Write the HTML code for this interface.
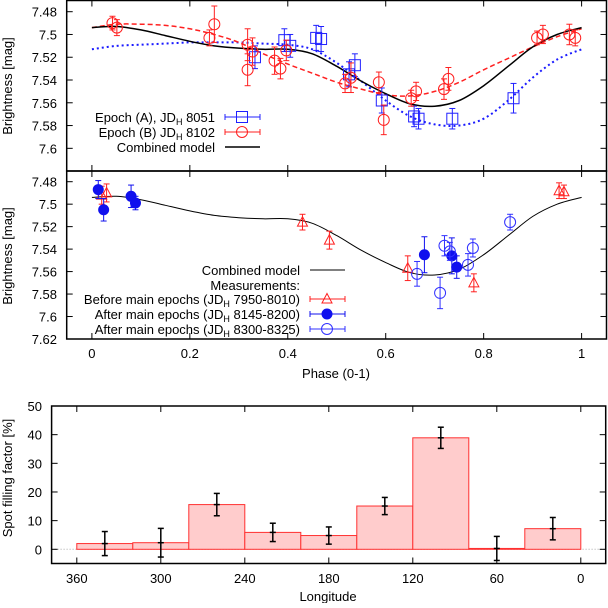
<!DOCTYPE html>
<html><head><meta charset="utf-8"><style>
body{margin:0;background:#fff}
svg text{font-family:"Liberation Sans",sans-serif;font-size:13px;fill:#000}
</style></head><body>
<svg id="c" width="608" height="603" xmlns="http://www.w3.org/2000/svg"></svg>
<script>
// ---- data ----
const phaseTicks=[0,0.2,0.4,0.6,0.8,1];
const phaseTickLabels=["0","0.2","0.4","0.6","0.8","1"];
const topYTicks=[7.48,7.5,7.52,7.54,7.56,7.58,7.6];
const topYLabels=["7.48","7.5","7.52","7.54","7.56","7.58","7.6"];
const midYTicks=[7.48,7.5,7.52,7.54,7.56,7.58,7.6,7.62];
const midYLabels=["7.48","7.5","7.52","7.54","7.56","7.58","7.6","7.62"];
const epochAPhase=[0.333,0.393,0.405,0.458,0.468,0.525,0.537,0.592,0.658,0.667,0.736,0.861];
const epochAMag=[7.520,7.505,7.510,7.503,7.504,7.535,7.527,7.558,7.572,7.574,7.574,7.556];
const epochAErr=[0.010,0.010,0.010,0.011,0.011,0.011,0.010,0.011,0.009,0.009,0.009,0.013];
const epochBPhase=[0.042,0.051,0.240,0.250,0.318,0.318,0.328,0.373,0.385,0.397,0.517,0.529,0.586,0.596,0.652,0.662,0.719,0.728,0.909,0.921,0.975,0.987];
const epochBMag=[7.490,7.494,7.503,7.491,7.509,7.531,7.515,7.523,7.530,7.514,7.543,7.538,7.542,7.575,7.556,7.550,7.548,7.539,7.503,7.500,7.500,7.503];
const epochBErr=[0.006,0.007,0.007,0.016,0.014,0.014,0.012,0.012,0.009,0.009,0.008,0.013,0.009,0.013,0.007,0.008,0.009,0.010,0.006,0.008,0.009,0.007];
const modelPhase=[0,0.05,0.1,0.15,0.2,0.25,0.3,0.35,0.4,0.45,0.5,0.55,0.6,0.65,0.7,0.75,0.8,0.85,0.9,0.95,1];
const combinedModel=[7.494,7.493,7.496,7.501,7.506,7.510,7.512,7.513,7.513,7.517,7.528,7.541,7.552,7.561,7.563,7.558,7.545,7.528,7.511,7.500,7.494];
const modelB=[7.494,7.491,7.491,7.492,7.495,7.500,7.507,7.517,7.526,7.534,7.542,7.548,7.553,7.554,7.550,7.542,7.531,7.521,7.511,7.502,7.495];
const modelA=[7.513,7.510,7.509,7.508,7.507,7.507,7.507,7.508,7.509,7.513,7.525,7.541,7.558,7.572,7.579,7.580,7.574,7.558,7.538,7.522,7.513];
const beforePhase=[0.020,0.030,0.430,0.485,0.645,0.780,0.954,0.964];
const beforeMag=[7.492,7.490,7.516,7.532,7.557,7.570,7.488,7.489];
const beforeErr=[0.008,0.008,0.007,0.008,0.011,0.008,0.007,0.006];
const after1Phase=[0.013,0.024,0.080,0.089,0.679,0.735,0.745];
const after1Mag=[7.487,7.505,7.493,7.499,7.545,7.546,7.556];
const after1Err=[0.008,0.010,0.010,0.006,0.016,0.016,0.010];
const after2Phase=[0.664,0.711,0.720,0.731,0.768,0.778,0.854];
const after2Mag=[7.562,7.579,7.537,7.542,7.554,7.539,7.516];
const after2Err=[0.011,0.014,0.009,0.008,0.010,0.008,0.007];
const lonEdges=[360,320,280,240,200,160,120,80,40,0];
const spotValues=[2.0,2.3,15.6,5.9,4.8,15.1,38.9,0.3,7.2];
const spotErr=[4.2,5.0,3.9,3.2,3.0,3.0,3.7,4.2,3.9];
const lonTicks=[360,300,240,180,120,60,0];
const spotYTicks=[0,10,20,30,40,50];

// ---- helpers ----
const S=document.getElementById('c');const NS='http://www.w3.org/2000/svg';
function el(t,a,p){const e=document.createElementNS(NS,t);for(const k in a)e.setAttribute(k,a[k]);(p||S).appendChild(e);return e;}
function txt(x,y,s,anc,p){const e=el('text',{x:x,y:y,'text-anchor':anc||'middle'},p);e.innerHTML=s;return e;}
const px=p=>91.9+p*489.7;
const yTop=v=>11.7+(v-7.48)/0.02*22.77;
const yMid=v=>181.7+(v-7.48)/0.02*22.47;
const lx=l=>580.8-l/360*504;
const sy=v=>549.3-v*2.866;

function frame(x1,y1,x2,y2,name){const r=el('rect',{x:x1,y:y1,width:x2-x1,height:y2-y1,fill:'none',stroke:'#000','stroke-width':1.5});
}
function line(x1,y1,x2,y2,c,w,d,p){return el('line',{x1:x1,y1:y1,x2:x2,y2:y2,stroke:c,'stroke-width':w||1,'stroke-dasharray':d||'none'},p);}
function curve(xs,ys,fx,fy,c,w,d,name){
 const P=xs.map((x,i)=>[fx(x),fy(ys[i])]);let s='M'+P[0][0].toFixed(1)+','+P[0][1].toFixed(1);
 for(let i=0;i<P.length-1;i++){const p0=P[Math.max(0,i-1)],p1=P[i],p2=P[i+1],p3=P[Math.min(P.length-1,i+2)];
  const c1=[p1[0]+(p2[0]-p0[0])/6,p1[1]+(p2[1]-p0[1])/6],c2=[p2[0]-(p3[0]-p1[0])/6,p2[1]-(p3[1]-p1[1])/6];
  s+=`C${c1[0].toFixed(1)},${c1[1].toFixed(1)} ${c2[0].toFixed(1)},${c2[1].toFixed(1)} ${p2[0].toFixed(1)},${p2[1].toFixed(1)}`;}
 const e=el('path',{d:s,fill:'none',stroke:c,'stroke-width':w,'stroke-dasharray':d||'none'});
 }
function err(x,y1,y2,c,p){line(x,y1,x,y2,c,1,null,p);line(x-3,y1,x+3,y1,c,1,null,p);line(x-3,y2,x+3,y2,c,1,null,p);}
function marker(kind,x,y,c,p){
 if(kind==='sq')el('rect',{x:x-5.5,y:y-5.5,width:11,height:11,fill:'none',stroke:c,'stroke-width':1},p);
 else if(kind==='oc')el('circle',{cx:x,cy:y,r:5.5,fill:'none',stroke:c,'stroke-width':1},p);
 else if(kind==='fc')el('circle',{cx:x,cy:y,r:5,fill:c,stroke:c},p);
 else if(kind==='tr')el('path',{d:`M${x},${y-5.5}L${x+5},${y+4}L${x-5},${y+4}Z`,fill:'none',stroke:c,'stroke-width':1},p);}
function series(kind,ph,mag,er,fy,c,name){ph.forEach((p,i)=>{const g=el('g',{});
 
 err(px(p),fy(mag[i]-er[i]),fy(mag[i]+er[i]),c,g);marker(kind,px(p),fy(mag[i]),c,g);});}
function legendRow(x,y,label,c,kind,dash,name){const g=el('g',{});
 
 txt(x,y+5,label,'end',g);
 if(kind){line(x+10,y,x+45,y,c,1,null,g);line(x+10,y-3,x+10,y+3,c,1,null,g);line(x+45,y-3,x+45,y+3,c,1,null,g);marker(kind,x+27,y,c,g);}
 else line(x+10,y,x+45,y,c,dash,null,g);}

// ---- top panel ----
frame(66.7,0.5,606.5,171,'top-panel-frame');
topYTicks.forEach((v,i)=>{const y=yTop(v);line(66.7,y,72.7,y,'#000');line(600.5,y,606.5,y,'#000');txt(57,y+5,topYLabels[i],'end');});
phaseTicks.forEach(p=>{line(px(p),171,px(p),165,'#000');line(px(p),0.5,px(p),6.5,'#000');});
curve(modelPhase,modelA,px,yTop,'#1a1aff',2,'2,3','model-epoch-a');
curve(modelPhase,modelB,px,yTop,'#ff2020',1.5,'5,3','model-epoch-b');
curve(modelPhase,combinedModel,px,yTop,'#000',1.5,null,'combined-model-top');
series('sq',epochAPhase,epochAMag,epochAErr,yTop,'#2020ff','epoch-a');
series('oc',epochBPhase,epochBMag,epochBErr,yTop,'#ff2020','epoch-b');
legendRow(215,117,'Epoch (A), JD<tspan font-size="9" dy="3">H</tspan><tspan dy="-3"> 8051</tspan>','#2020ff','sq',null,'legend-epoch-a');
legendRow(215,132,'Epoch (B) JD<tspan font-size="9" dy="3">H</tspan><tspan dy="-3"> 8102</tspan>','#ff2020','oc',null,'legend-epoch-b');
legendRow(215,147,'Combined model','#000',null,1.5,'legend-combined-top');
let t=txt(0,0,'Brightness [mag]');t.setAttribute('transform','translate(12,86) rotate(-90)');

// ---- middle panel ----
frame(66.7,171,606.5,339,'middle-panel-frame');
midYTicks.forEach((v,i)=>{const y=yMid(v);line(66.7,y,72.7,y,'#000');line(600.5,y,606.5,y,'#000');txt(57,y+5,midYLabels[i],'end');});
phaseTicks.forEach((p,i)=>{line(px(p),339,px(p),333,'#000');line(px(p),171,px(p),177,'#000');txt(px(p),358,phaseTickLabels[i]);});
curve(modelPhase,combinedModel,px,yMid,'#000',1,null,'combined-model-middle');
series('tr',beforePhase,beforeMag,beforeErr,yMid,'#ff2020','before-epochs');
series('fc',after1Phase,after1Mag,after1Err,yMid,'#1010ee','after-epochs-1');
series('oc',after2Phase,after2Mag,after2Err,yMid,'#3030ff','after-epochs-2');
legendRow(300,270,'Combined model','#000',null,1,'legend-combined-middle');
txt(300,290,'Measurements:','end');
legendRow(300,299,'Before main epochs (JD<tspan font-size="9" dy="3">H</tspan><tspan dy="-3"> 7950-8010)</tspan>','#ff2020','tr',null,'legend-before');
legendRow(300,314,'After main epochs (JD<tspan font-size="9" dy="3">H</tspan><tspan dy="-3"> 8145-8200)</tspan>','#1010ee','fc',null,'legend-after-1');
legendRow(300,329,'After main epochs (JD<tspan font-size="9" dy="3">H</tspan><tspan dy="-3"> 8300-8325)</tspan>','#3030ff','oc',null,'legend-after-2');
t=txt(0,0,'Brightness [mag]');t.setAttribute('transform','translate(12,256) rotate(-90)');
t=txt(336,378,'Phase (0-1)');

// ---- bottom panel ----
line(51.6,sy(0),605.7,sy(0),'#aaa',1,'1,2');
for(let i=0;i<spotValues.length;i++){const x1=lx(lonEdges[i]),x2=lx(lonEdges[i+1]);
 const b=el('rect',{x:x1,y:Math.min(sy(spotValues[i]),sy(0)),width:x2-x1,height:Math.abs(sy(0)-sy(spotValues[i])),fill:'#ffcccc',stroke:'#ff3030','stroke-width':1});
 
 const c=(lonEdges[i]+lonEdges[i+1])/2;const g=el('g',{});
 
 const e1=sy(spotValues[i]-spotErr[i]),e2=sy(spotValues[i]+spotErr[i]);
 line(lx(c),e1,lx(c),e2,'#000',1.5,null,g);line(lx(c)-3,e1,lx(c)+3,e1,'#000',1.5,null,g);line(lx(c)-3,e2,lx(c)+3,e2,'#000',1.5,null,g);
 line(lx(c)-3,sy(spotValues[i]),lx(c)+3,sy(spotValues[i]),'#000',1.5,null,g);}
frame(51.6,406,605.7,563.5,'bottom-panel-frame');
spotYTicks.forEach(v=>{const y=sy(v);line(51.6,y,57.6,y,'#000');line(599.7,y,605.7,y,'#000');txt(42,y+5,String(v),'end');});
lonTicks.forEach(l=>{line(lx(l),563.5,lx(l),557.5,'#000');line(lx(l),406,lx(l),412,'#000');txt(lx(l),583,String(l));});
t=txt(0,0,'Spot filling factor [%]');t.setAttribute('transform','translate(12,478) rotate(-90)');
t=txt(328,601,'Longitude');
</script>
</body></html>
